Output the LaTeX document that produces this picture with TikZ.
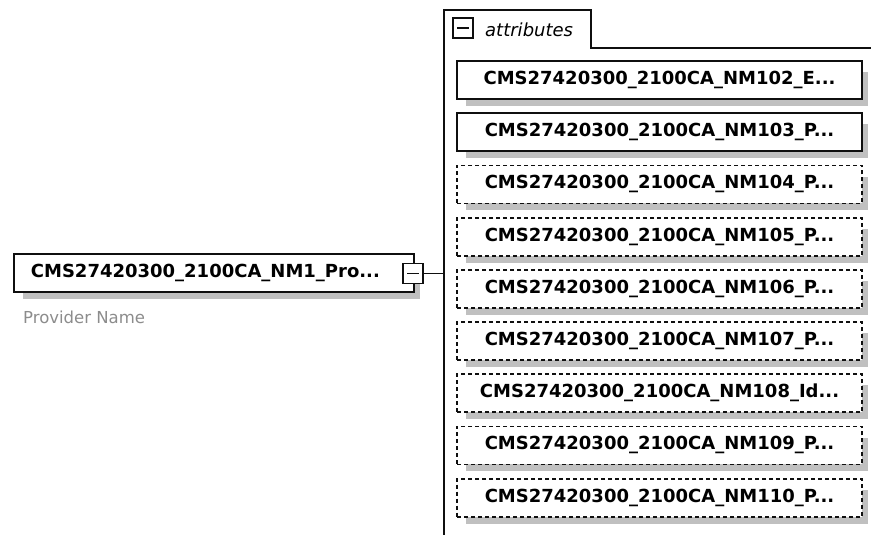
\documentclass[tikz,border=0pt]{standalone}
\usepackage{fontspec}
\setmainfont{DejaVu Sans}
\usetikzlibrary{calc,positioning,backgrounds}
\definecolor{shadc}{RGB}{192,192,192}
\definecolor{notec}{RGB}{140,140,140}
\definecolor{linec}{RGB}{15,15,15}
\tikzset{
  elem/.style={rectangle,draw=linec,fill=white,line width=1.8pt,minimum height=38pt,inner sep=0pt,font=\fontsize{18}{20}\selectfont\bfseries},
  opt/.style={elem,dash pattern=on 4pt off 3pt},
  collapse/.style={rectangle,draw=linec,fill=white,line width=1.6pt,minimum width=20pt,minimum height=20pt,inner sep=0pt,
    path picture={\draw[line width=1.6pt,linec] ([xshift=4pt]path picture bounding box.west) -- ([xshift=-4pt]path picture bounding box.east);}},
  shad/.style={fill=shadc},
  wire/.style={line width=1.8pt,linec},
}
\begin{document}
\begin{tikzpicture}[x=1pt,y=-1pt]
  \useasboundingbox (0,0) rectangle (871,535);
  % element (left)
  \node[elem,anchor=west,text width=366pt,inner xsep=17pt,align=left] (prov) at (13,273) {CMS27420300\_2100CA\_NM1\_Pro...};
  \node[collapse] (provx) at (413,273.5) {};
  \node[font=\fontsize{16.5}{18}\selectfont,text=notec,anchor=west,inner sep=0pt] (provnote) at (23,317) {Provider Name};
  % attributes container
  \coordinate (tabtop) at (444,10);
  \draw[wire] (444,535) -- (tabtop) -- (591,10) -- (591,48) -- (871,48);
  \node[collapse] (attx) at (463,28) {};
  \node[font=\fontsize{18}{20}\selectfont\itshape,anchor=base west,inner sep=0pt] (attname) at (485,37) {attributes};
  \coordinate (join) at (444,273.5);
  \draw[wire] (provx) -- (join);
  % attribute boxes (right)
  \foreach \i/\t/\s in {1/102\_E/elem, 2/103\_P/elem, 3/104\_P/opt, 4/105\_P/opt, 5/106\_P/opt,
                        6/107\_P/opt, 7/108\_Id/opt, 8/109\_P/opt, 9/110\_P/opt}{
    \node[\s,minimum width=405pt] (a\i) at (659.5,{80+(\i-1)*52.2}) {CMS27420300\_2100CA\_NM\t...};}
  % shadows
  \begin{scope}[on background layer]
    \fill[shad] ($(prov.south west)+(10,6)$) rectangle ($(prov.north east)+(5,12)$);
    \foreach \i in {1,...,9}{
      \fill[shad] ($(a\i.south west)+(10,6)$) rectangle ($(a\i.north east)+(5,12)$);}
  \end{scope}
\end{tikzpicture}
\end{document}
